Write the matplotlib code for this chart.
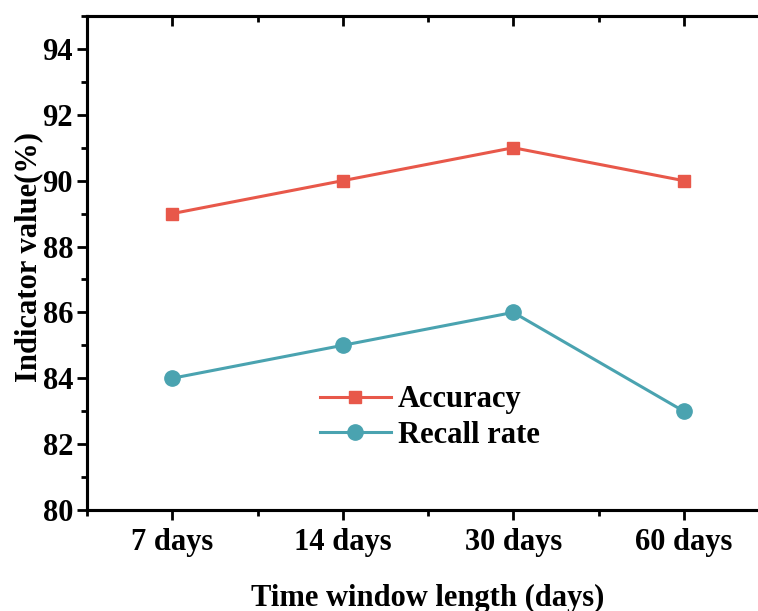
import numpy as np
import matplotlib
matplotlib.use("Agg")
import matplotlib.pyplot as plt
from matplotlib.ticker import MultipleLocator

categories = ['7 days', '14 days', '30 days', '60 days']
accuracy = [89, 90, 91, 90]
recall = [84, 85, 86, 83]

plt.rcParams['font.family'] = 'Liberation Serif'
plt.rcParams['font.weight'] = 'bold'

fig = plt.figure(figsize=(7.58, 6.11), dpi=100)
ax = fig.add_axes([87 / 758, 1 - 510 / 611, (769 - 87) / 758, (510 - 16) / 611])

x = np.arange(len(categories))
ax.plot(x, accuracy, color='#E8584A', lw=2.2, marker='s', ms=9, label='Accuracy')
ax.plot(x, recall, color='#4AA3B0', lw=2.2, marker='o', ms=11, label='Recall rate')

ax.set_xlim(-0.5, 3.5)
ax.set_ylim(80, 95)
ax.set_xticks(x)
ax.set_xticklabels(categories)
ax.xaxis.set_minor_locator(MultipleLocator(0.5))
ax.yaxis.set_major_locator(MultipleLocator(2))
ax.yaxis.set_minor_locator(MultipleLocator(1))

for s in ax.spines.values():
    s.set_linewidth(2.2)

ax.tick_params(axis='both', which='both', width=2, labelsize=22, direction='out')
ax.tick_params(axis='both', which='major', length=7)
ax.tick_params(axis='both', which='minor', length=4)
ax.tick_params(axis='x', which='major', pad=6)
ax.tick_params(axis='y', which='major', pad=3)
for lbl in ax.get_xticklabels() + ax.get_yticklabels():
    lbl.set_fontweight('bold')

# top ticks pointing inward
top = ax.twiny()
top.set_xlim(ax.get_xlim())
top.set_xticks(x)
top.xaxis.set_minor_locator(MultipleLocator(0.5))
top.tick_params(axis='x', which='both', direction='in', width=2,
                labeltop=False, top=True, bottom=False)
top.tick_params(axis='x', which='major', length=7)
top.tick_params(axis='x', which='minor', length=4)
for s in top.spines.values():
    s.set_linewidth(2.2)

ax.set_xlabel('Time window length (days)', fontsize=22, fontweight='bold', labelpad=19)
ax.set_ylabel('Indicator value(%)', fontsize=22, fontweight='bold')
ax.yaxis.set_label_coords(-0.064, 0.512)

leg = ax.legend(loc='center left', bbox_to_anchor=(0.342, 0.187), frameon=False,
                borderpad=0, borderaxespad=0,
                fontsize=22, handlelength=2.3, labelspacing=0.22, handletextpad=0.25)
for t in leg.get_texts():
    t.set_fontweight('bold')

fig.savefig('out.png', dpi=100)
